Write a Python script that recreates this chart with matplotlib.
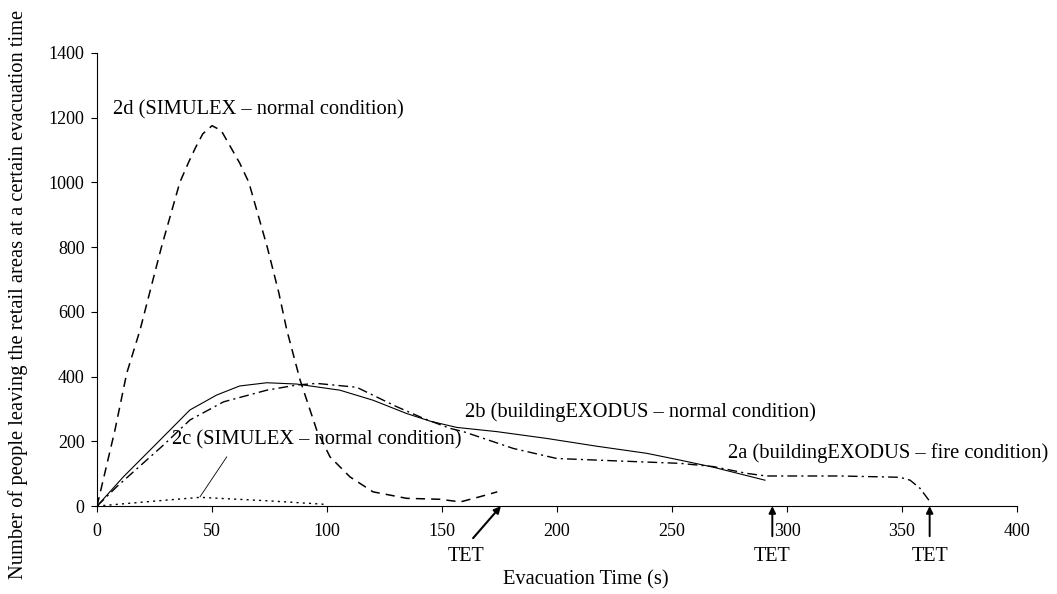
import matplotlib
matplotlib.use("Agg")
import matplotlib.pyplot as plt

plt.rcParams['font.family'] = ['Liberation Serif', 'DejaVu Serif']

# =============================
# Data
# =============================
# 2d (SIMULEX - normal condition), dashed
t_2d = [0, 7.8, 12.9, 18.7, 24, 28, 36, 40, 43, 46, 50, 54, 58, 62, 66, 74, 79, 82.5, 88.3,
        95.5, 101.3, 110, 120, 134.6, 149, 158, 166, 174]
n_2d = [0, 235, 410, 544, 690, 800, 1000, 1065, 1110, 1150, 1175, 1160, 1110, 1060, 1000,
        800, 660, 544, 389, 235, 152, 90, 44, 24, 21, 13, 28, 44]

# 2b (buildingEXODUS - normal condition), solid
t_2b = [0, 11.4, 26, 40.4, 52, 62, 73.8, 86.8, 105.6, 120, 134.6, 145, 156.4,
        173.8, 195.5, 217.2, 239, 253.5, 268, 290.4]
n_2b = [0, 90, 194, 297, 343, 371, 381, 377, 358, 327, 286, 262, 243,
        230, 209, 185, 163, 142, 120, 80]

# 2a (buildingEXODUS - fire condition), dash-dot
t_2a = [0, 8.6, 28.8, 40.4, 55, 73.8, 86.8, 95.5, 112.9, 130.3, 141.9, 153.5, 159.3,
        181, 199.9, 224.5, 253.5, 268, 282.5, 291, 297, 323, 349, 353.5, 357.8, 362]
n_2a = [0, 60, 188, 266, 322, 358, 374, 379, 367, 307, 271, 240, 230,
        178, 147, 140, 132, 122, 101, 93, 93, 93, 89, 80, 55, 15]

# 2c (SIMULEX - normal condition), dotted
t_2c = [0, 26, 44.8, 75, 98, 100]
n_2c = [0, 16, 27, 16, 6, 2]

# total evacuation times marked with arrows
tet_times = [175.6, 293.6, 362]

x_ticks = [0, 50, 100, 150, 200, 250, 300, 350, 400]
y_ticks = [0, 200, 400, 600, 800, 1000, 1200, 1400]

# =============================
# Plot
# =============================
fig = plt.figure(figsize=(10.57, 5.94), dpi=100)
ax = fig.add_axes([0.0918, 0.148, 0.8704, 0.763])

ax.plot(t_2d, n_2d, color="black", lw=1.1, linestyle=(0, (6, 4)))
ax.plot(t_2b, n_2b, color="black", lw=0.8, linestyle="-")
ax.plot(t_2a, n_2a, color="black", lw=1.0, linestyle=(0, (7, 3, 1.5, 3)))
ax.plot(t_2c, n_2c, color="black", lw=1.0, linestyle=(0, (1.5, 3)))

ax.set_xlim(0, 400)
ax.set_ylim(0, 1400)
ax.set_xticks(x_ticks)
ax.set_yticks(y_ticks)
ax.tick_params(direction="out", length=4, width=0.8, labelsize=13)
ax.tick_params(axis="x", pad=8.5)
ax.tick_params(axis="y", pad=5)
ax.spines["top"].set_visible(False)
ax.spines["right"].set_visible(False)

# curve labels
fs = 14.8
ax.text(7, 1224, "2d (SIMULEX \u2013 normal condition)", fontsize=fs, va="center")
ax.text(32.5, 204, "2c (SIMULEX \u2013 normal condition)", fontsize=fs, va="center")
ax.text(160, 291, "2b (buildingEXODUS \u2013 normal condition)", fontsize=fs, va="center")
ax.text(274.5, 163, "2a (buildingEXODUS \u2013 fire condition)", fontsize=fs, va="center",
        clip_on=False)
ax.plot([44.8, 56.4], [29, 152], color="black", lw=0.6)

# TET arrows
ax.annotate("", xy=(tet_times[0], 0), xytext=(163.5, -99), annotation_clip=False,
            arrowprops=dict(arrowstyle="-|>", color="black", lw=1.5, mutation_scale=10,
                            shrinkA=0, shrinkB=0))
ax.text(160.5, -157, "TET", fontsize=14.5, ha="center", va="center", clip_on=False)
for t in tet_times[1:]:
    ax.annotate("", xy=(t, 0), xytext=(t, -93), annotation_clip=False,
                arrowprops=dict(arrowstyle="-|>", color="black", lw=1.4, mutation_scale=10,
                                shrinkA=0, shrinkB=0))
    ax.text(t, -157, "TET", fontsize=14.5, ha="center", va="center", clip_on=False)

ax.set_xlabel("Evacuation Time (s)", fontsize=14.8, va="center")
ax.xaxis.set_label_coords(0.531, -0.163)
ax.set_ylabel("Number of people leaving the retail areas at a certain evacuation time",
              fontsize=14.8)
ax.yaxis.set_label_coords(-0.075, 0.466)

fig.savefig("out.png", dpi=100)
